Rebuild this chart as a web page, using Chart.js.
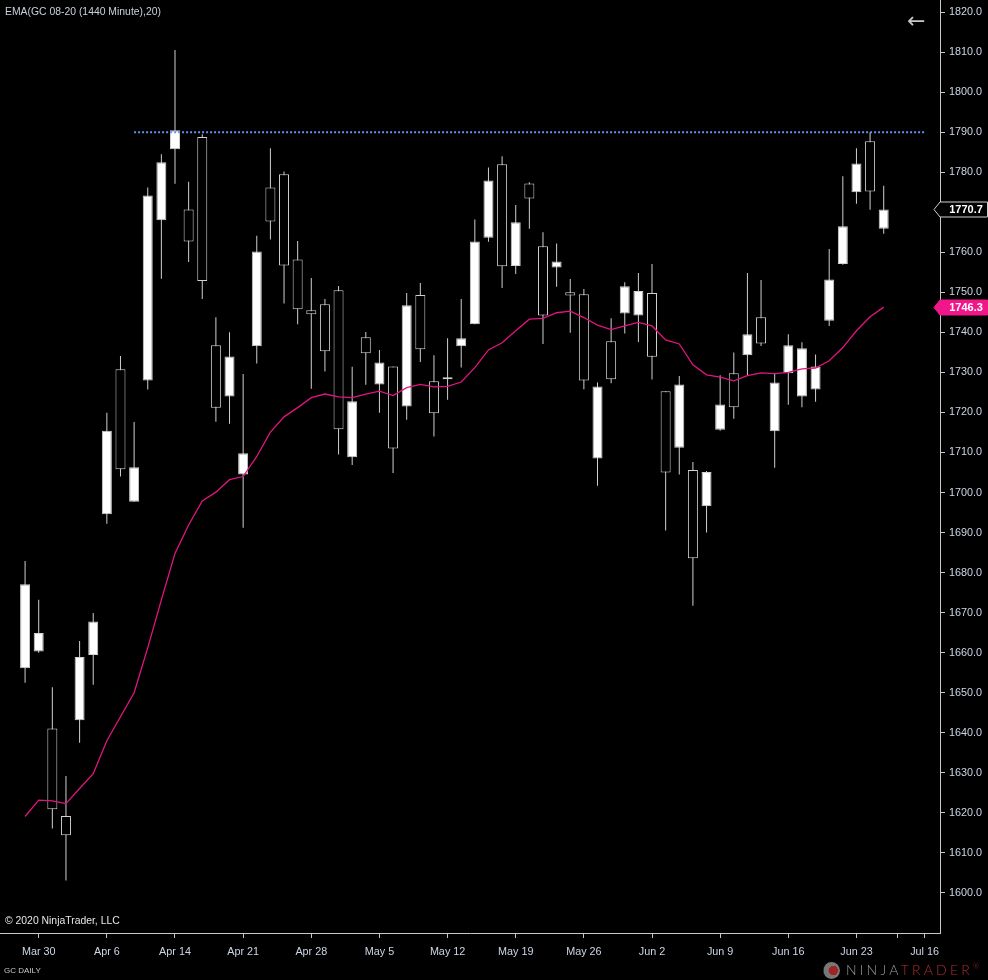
<!DOCTYPE html>
<html>
<head>
<meta charset="utf-8">
<script src="https://cdn.jsdelivr.net/npm/chart.js@4.4.1/dist/chart.umd.min.js"></script>
<style>
  html, body { margin:0; padding:0; background:#000; }
  #wrap { position:relative; width:988px; height:980px; overflow:hidden; background:#000; }
  #c { position:absolute; left:0; top:0; }
  .t { position:absolute; font-family:'Liberation Sans', Arial, sans-serif; white-space:nowrap; }
</style>
</head>
<body>
<div id="wrap">
  <canvas id="c" width="988" height="980"></canvas>
  <div class="t" style="left:5px;top:6px;font-size:10.4px;color:#c9d0dc;">EMA(GC 08-20 (1440 Minute),20)</div>
  <div class="t" style="left:907px;top:10px;font-size:22px;line-height:22px;color:#c8c8c8;font-family:'DejaVu Sans',sans-serif;">&#8592;</div>
  <div class="t" style="left:5px;top:915px;font-size:10.4px;color:#e6e6e6;">&copy; 2020 NinjaTrader, LLC</div>
  <div class="t" style="left:4px;top:966px;font-size:8px;color:#c8c8c8;">GC DAILY</div>
  <div style="position:absolute;left:823px;top:962px;width:17px;height:17px;border-radius:50%;background:radial-gradient(circle at 60% 50%, #a02424 0 35%, #777 36% 70%, #3a3a3a 71%);"></div>
  <div class="t" style="left:846px;top:961px;font-size:14px;letter-spacing:3.2px;font-family:'Lato','Liberation Sans',sans-serif;font-weight:300;"><span style="color:#9a9a9a">NINJA</span><span style="color:#b32e2e">TRADER</span><sup style="color:#b32e2e;font-size:7px;letter-spacing:0">&reg;</sup></div>
</div>
<script>
// ---- data (GC 08-20 daily) ----
const dates = ['Mar 27','Mar 30','Mar 31','Apr 1','Apr 2','Apr 3','Apr 6','Apr 7','Apr 8','Apr 9',
  'Apr 13','Apr 14','Apr 15','Apr 16','Apr 17','Apr 20','Apr 21','Apr 22','Apr 23','Apr 24',
  'Apr 27','Apr 28','Apr 29','Apr 30','May 1','May 4','May 5','May 6','May 7','May 8',
  'May 11','May 12','May 13','May 14','May 15','May 18','May 19','May 20','May 21','May 22',
  'May 25','May 26','May 27','May 28','May 29','Jun 1','Jun 2','Jun 3','Jun 4','Jun 5',
  'Jun 8','Jun 9','Jun 10','Jun 11','Jun 12','Jun 15','Jun 16','Jun 17','Jun 18','Jun 19',
  'Jun 22','Jun 23','Jun 24','Jun 25'];
const open = [1656.1,1660.3,1641.1,1619.2,1643.1,1659.4,1694.6,1730.8,1697.7,1728.0,
  1768.0,1785.7,1770.7,1788.8,1736.8,1724.0,1704.5,1736.5,1776.2,1779.5,
  1758.2,1745.5,1747.0,1750.5,1708.8,1738.8,1727.0,1731.5,1721.5,1749.3,
  1727.8,1728.3,1736.5,1742.0,1763.6,1782.0,1756.6,1777.2,1761.5,1756.2,
  1750.0,1749.5,1708.5,1737.8,1744.7,1744.2,1749.8,1725.3,1711.2,1705.6,
  1696.6,1715.7,1729.8,1734.3,1743.8,1715.3,1729.8,1724.0,1725.7,1742.9,
  1757.1,1775.0,1787.7,1765.9];
const high = [1682.9,1673.2,1651.4,1629.2,1662.9,1669.9,1719.9,1734.1,1717.6,1776.2,
  1784.5,1810.5,1777.6,1789.5,1743.8,1740.0,1729.6,1764.1,1786.0,1780.2,
  1762.8,1753.6,1748.3,1751.6,1731.4,1740.1,1735.6,1731.5,1749.8,1752.3,
  1734.3,1738.5,1748.3,1768.2,1781.2,1784.0,1771.8,1777.5,1765.0,1762.2,
  1753.3,1750.8,1727.5,1743.5,1752.5,1754.8,1757.1,1725.3,1729.1,1707.6,
  1705.4,1729.3,1735.0,1754.8,1753.1,1729.6,1739.5,1737.5,1734.5,1760.8,
  1779.0,1786.0,1790.0,1776.6];
const low = [1652.5,1660.0,1616.1,1603.1,1637.5,1652.0,1692.2,1704.0,1697.7,1725.7,
  1753.4,1777.1,1757.6,1748.3,1717.7,1717.2,1691.2,1732.2,1763.2,1747.2,
  1742.0,1725.9,1730.2,1709.5,1706.9,1726.9,1719.9,1704.9,1718.2,1732.6,
  1714.0,1723.2,1731.2,1742.0,1762.6,1751.1,1754.6,1765.9,1737.1,1751.4,
  1739.9,1725.8,1701.7,1727.3,1739.7,1737.6,1728.2,1690.5,1704.5,1671.7,
  1690.0,1715.4,1718.4,1729.3,1736.6,1706.2,1721.9,1721.3,1722.7,1741.6,
  1756.9,1772.1,1770.6,1764.6];
const close = [1677.1,1664.9,1620.9,1614.4,1658.9,1667.8,1715.4,1705.8,1706.3,1774.2,
  1782.5,1790.5,1762.7,1752.8,1721.2,1734.0,1709.8,1760.2,1767.7,1756.7,
  1745.8,1744.5,1735.3,1715.8,1722.8,1734.8,1732.5,1711.0,1746.8,1735.8,
  1719.8,1728.8,1738.5,1762.7,1777.9,1756.5,1767.5,1773.4,1744.2,1757.7,
  1749.2,1728.0,1726.5,1728.3,1751.5,1750.3,1733.9,1705.0,1727.0,1683.6,
  1705.1,1722.0,1721.3,1739.5,1737.2,1727.5,1736.8,1736.0,1731.5,1753.2,
  1766.5,1782.2,1775.2,1770.7];
const ema20 = [1619.1,1623.2,1623.0,1622.3,1626.1,1629.8,1638.0,1644.0,1650.0,1661.2,
  1673.2,1684.8,1691.9,1697.9,1700.1,1703.2,1704.0,1709.0,1715.1,1718.9,
  1721.2,1723.7,1724.6,1723.9,1723.7,1724.6,1725.3,1724.2,1726.2,1727.0,
  1726.4,1726.5,1727.6,1731.2,1735.6,1737.4,1740.4,1743.3,1743.5,1744.9,
  1745.3,1743.7,1741.8,1740.7,1741.6,1742.5,1741.6,1738.1,1737.1,1731.9,
  1729.4,1728.8,1727.9,1729.2,1729.9,1729.7,1730.0,1730.9,1731.1,1732.9,
  1736.2,1740.4,1743.9,1746.3];

// axis ticks
const xTickSlots  = [1, 6, 11, 16, 21, 26, 31, 36, 41, 46, 51, 56, 61, 64, 66];
const xTickLabels = ['Mar 30','Apr 6','Apr 14','Apr 21','Apr 28','May 5','May 12','May 19','May 26','Jun 2','Jun 9','Jun 16','Jun 23','','Jul 16'];
const yTicks = [1600,1610,1620,1630,1640,1650,1660,1670,1680,1690,1700,1710,1720,1730,1740,1750,1760,1770,1780,1790,1800,1810,1820];

// horizontal drawn level (bar slots it spans)
const levelPrice = 1790;
const levelFrom = 8;
const levelTo = 66;

// ---- view ----
const X_MIN = -1.84, X_MAX = 67.13, Y_MIN = 1590, Y_MAX = 1823;
const FONT = "'Liberation Sans', Arial, sans-serif";
const AXIS_COLOR = '#c8c8c8';
const LABEL_COLOR = '#cdd6e6';

const wickData = dates.map((d, i) => ({x: i, y: [low[i], high[i]]}));
const bodyData = dates.map((d, i) => ({x: i, y: [open[i], close[i]]}));
const bodyFill = dates.map((d, i) => close[i] >= open[i] ? '#ffffff' : '#000000');
const emaData  = dates.map((d, i) => ({x: i, y: ema20[i]}));
const levelData = [{x: levelFrom, y: levelPrice}, {x: levelTo, y: levelPrice}];

const priceTags = {
  id: 'priceTags',
  afterDraw(chart) {
    const ctx = chart.ctx, ys = chart.scales.y;
    const x0 = ys.left;
    const tag = (v, fill, stroke, txt) => {
      const py = Math.round(ys.getPixelForValue(v)) + 0.5;
      const h = 7.5;
      ctx.save();
      ctx.beginPath();
      ctx.moveTo(x0 - 6, py);
      ctx.lineTo(x0, py - h);
      ctx.lineTo(987.5, py - h);
      ctx.lineTo(987.5, py + h);
      ctx.lineTo(x0, py + h);
      ctx.closePath();
      ctx.fillStyle = fill; ctx.fill();
      ctx.lineWidth = 1; ctx.strokeStyle = stroke; ctx.stroke();
      ctx.fillStyle = txt;
      ctx.font = 'bold 11px ' + FONT;
      ctx.textAlign = 'center';
      ctx.textBaseline = 'middle';
      ctx.fillText(v.toFixed(1), 966, py + 0.5);
      ctx.restore();
    };
    const n = close.length - 1;
    tag(close[n], '#000000', '#d0d0d0', '#ffffff');
    tag(ema20[n], '#f2168b', '#f2168b', '#ffffff');
  }
};

new Chart(document.getElementById('c'), {
  type: 'bar',
  data: {
    datasets: [
      { type: 'line', data: levelData, borderColor: '#6592ef', borderWidth: 2, borderDash: [2, 2],
        pointRadius: 0, fill: false, order: 0 },
      { type: 'line', data: emaData, borderColor: '#e2157f', borderWidth: 1.3, pointRadius: 0,
        tension: 0, fill: false, order: 1 },
      { type: 'bar', data: bodyData, grouped: false, barThickness: 10, backgroundColor: bodyFill,
        borderColor: '#d2d2d2', borderWidth: 1, borderSkipped: false, inflateAmount: 0, order: 2 },
      { type: 'bar', data: wickData, grouped: false, barThickness: 1, backgroundColor: '#cfcfcf',
        borderWidth: 0, inflateAmount: 0, order: 3 }
    ]
  },
  options: {
    responsive: false,
    animation: false,
    events: [],
    layout: { padding: 0, autoPadding: false },
    plugins: { legend: { display: false }, tooltip: { enabled: false } },
    scales: {
      x: {
        type: 'linear', min: X_MIN, max: X_MAX, offset: false,
        afterBuildTicks: s => { s.ticks = xTickSlots.map(v => ({value: v})); },
        afterFit: s => { s.height = 47; s.paddingLeft = 0; s.paddingRight = 0; },
        ticks: { autoSkip: false, maxRotation: 0, minRotation: 0, padding: 8,
          color: LABEL_COLOR, font: { family: FONT, size: 10.8 },
          callback: (v, i) => xTickLabels[i] },
        grid: { offset: false, drawOnChartArea: false, drawTicks: true, tickLength: 5, tickColor: AXIS_COLOR, color: AXIS_COLOR },
        border: { display: true, color: AXIS_COLOR, width: 1 }
      },
      y: {
        type: 'linear', position: 'right', min: Y_MIN, max: Y_MAX,
        afterBuildTicks: s => { s.ticks = yTicks.map(v => ({value: v})); },
        afterFit: s => { s.width = 48; s.paddingTop = 0; s.paddingBottom = 0; },
        ticks: { padding: 4, color: LABEL_COLOR, font: { family: FONT, size: 10.8 },
          callback: v => Number(v).toFixed(1) },
        grid: { drawOnChartArea: false, drawTicks: true, tickLength: 5, tickColor: AXIS_COLOR, color: AXIS_COLOR },
        border: { display: true, color: AXIS_COLOR, width: 1 }
      }
    }
  },
  plugins: [priceTags]
});
</script>
</body>
</html>
